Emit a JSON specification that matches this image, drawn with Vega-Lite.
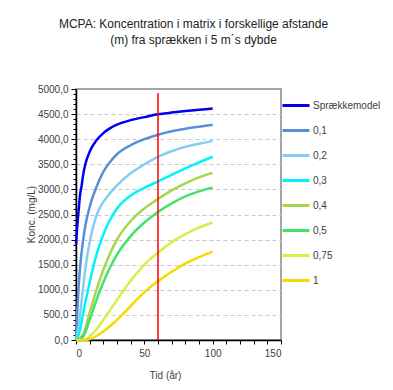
{
  "$schema": "https://vega.github.io/schema/vega-lite/v6.json",
  "width": 205,
  "height": 251,
  "autosize": {"type": "none"},
  "padding": {"left": 76, "top": 89, "right": 112, "bottom": 50},
  "background": "white",
  "config": {
    "locale": {"number": {"decimal": ",", "thousands": ".", "grouping": [3], "currency": ["", ""]}},
    "font": "Liberation Sans",
    "view": {"stroke": "#888888", "strokeWidth": 1.5},
    "axis": {"domainColor": "#000000", "domainWidth": 1.5, "tickColor": "#000000", "labelColor": "#404040", "labelFontSize": 10, "titleFontSize": 10, "titleFontWeight": "normal", "titleColor": "#404040", "labelOverlap": false, "tickCount": 100}
  },
  "title": {
    "text": ["MCPA: Koncentration i matrix i forskellige afstande", "(m) fra sprækken i 5 m´s dybde"],
    "fontSize": 12,
    "fontWeight": "normal",
    "color": "#222222",
    "lineHeight": 16,
    "offset": 37,
    "dx": 15,
    "anchor": "middle"
  },
  "datasets": {
    "curves": [
      {"s": "Sprækkemodel", "t": 0, "c": 1900}, {"s": "Sprækkemodel", "t": 1, "c": 2300}, {"s": "Sprækkemodel", "t": 2, "c": 2600}, {"s": "Sprækkemodel", "t": 3, "c": 2900}, {"s": "Sprækkemodel", "t": 4, "c": 3050}, {"s": "Sprækkemodel", "t": 5, "c": 3250}, {"s": "Sprækkemodel", "t": 7, "c": 3520}, {"s": "Sprækkemodel", "t": 10, "c": 3750}, {"s": "Sprækkemodel", "t": 15, "c": 3980}, {"s": "Sprækkemodel", "t": 20, "c": 4120}, {"s": "Sprækkemodel", "t": 25, "c": 4220}, {"s": "Sprækkemodel", "t": 30, "c": 4290}, {"s": "Sprækkemodel", "t": 40, "c": 4380}, {"s": "Sprækkemodel", "t": 50, "c": 4440}, {"s": "Sprækkemodel", "t": 60, "c": 4495}, {"s": "Sprækkemodel", "t": 70, "c": 4530}, {"s": "Sprækkemodel", "t": 80, "c": 4560}, {"s": "Sprækkemodel", "t": 90, "c": 4585}, {"s": "Sprækkemodel", "t": 100, "c": 4610},
      {"s": "0,1", "t": 0, "c": 0}, {"s": "0,1", "t": 1, "c": 600}, {"s": "0,1", "t": 2, "c": 1100}, {"s": "0,1", "t": 3, "c": 1450}, {"s": "0,1", "t": 5, "c": 1950}, {"s": "0,1", "t": 7, "c": 2300}, {"s": "0,1", "t": 10, "c": 2650}, {"s": "0,1", "t": 15, "c": 3050}, {"s": "0,1", "t": 20, "c": 3350}, {"s": "0,1", "t": 25, "c": 3550}, {"s": "0,1", "t": 30, "c": 3700}, {"s": "0,1", "t": 40, "c": 3880}, {"s": "0,1", "t": 50, "c": 4000}, {"s": "0,1", "t": 60, "c": 4090}, {"s": "0,1", "t": 70, "c": 4160}, {"s": "0,1", "t": 80, "c": 4210}, {"s": "0,1", "t": 90, "c": 4250}, {"s": "0,1", "t": 100, "c": 4290},
      {"s": "0,2", "t": 0, "c": 0}, {"s": "0,2", "t": 2, "c": 280}, {"s": "0,2", "t": 3, "c": 500}, {"s": "0,2", "t": 5, "c": 1000}, {"s": "0,2", "t": 7, "c": 1450}, {"s": "0,2", "t": 10, "c": 1950}, {"s": "0,2", "t": 13, "c": 2300}, {"s": "0,2", "t": 16, "c": 2550}, {"s": "0,2", "t": 20, "c": 2750}, {"s": "0,2", "t": 25, "c": 2930}, {"s": "0,2", "t": 30, "c": 3080}, {"s": "0,2", "t": 40, "c": 3320}, {"s": "0,2", "t": 50, "c": 3500}, {"s": "0,2", "t": 60, "c": 3650}, {"s": "0,2", "t": 70, "c": 3760}, {"s": "0,2", "t": 80, "c": 3850}, {"s": "0,2", "t": 90, "c": 3910}, {"s": "0,2", "t": 100, "c": 3965},
      {"s": "0,3", "t": 0, "c": 0}, {"s": "0,3", "t": 3, "c": 200}, {"s": "0,3", "t": 5, "c": 500}, {"s": "0,3", "t": 10, "c": 1150}, {"s": "0,3", "t": 15, "c": 1700}, {"s": "0,3", "t": 20, "c": 2100}, {"s": "0,3", "t": 25, "c": 2400}, {"s": "0,3", "t": 30, "c": 2620}, {"s": "0,3", "t": 40, "c": 2880}, {"s": "0,3", "t": 50, "c": 3030}, {"s": "0,3", "t": 60, "c": 3160}, {"s": "0,3", "t": 70, "c": 3290}, {"s": "0,3", "t": 80, "c": 3420}, {"s": "0,3", "t": 90, "c": 3540}, {"s": "0,3", "t": 100, "c": 3650},
      {"s": "0,4", "t": 0, "c": 0}, {"s": "0,4", "t": 5, "c": 100}, {"s": "0,4", "t": 10, "c": 550}, {"s": "0,4", "t": 15, "c": 1000}, {"s": "0,4", "t": 20, "c": 1400}, {"s": "0,4", "t": 25, "c": 1730}, {"s": "0,4", "t": 30, "c": 2000}, {"s": "0,4", "t": 40, "c": 2370}, {"s": "0,4", "t": 50, "c": 2620}, {"s": "0,4", "t": 60, "c": 2810}, {"s": "0,4", "t": 70, "c": 2980}, {"s": "0,4", "t": 80, "c": 3120}, {"s": "0,4", "t": 90, "c": 3240}, {"s": "0,4", "t": 100, "c": 3330},
      {"s": "0,5", "t": 0, "c": 0}, {"s": "0,5", "t": 5, "c": 60}, {"s": "0,5", "t": 10, "c": 400}, {"s": "0,5", "t": 15, "c": 800}, {"s": "0,5", "t": 20, "c": 1150}, {"s": "0,5", "t": 25, "c": 1450}, {"s": "0,5", "t": 30, "c": 1700}, {"s": "0,5", "t": 40, "c": 2070}, {"s": "0,5", "t": 50, "c": 2340}, {"s": "0,5", "t": 60, "c": 2550}, {"s": "0,5", "t": 70, "c": 2720}, {"s": "0,5", "t": 80, "c": 2860}, {"s": "0,5", "t": 90, "c": 2960}, {"s": "0,5", "t": 100, "c": 3035},
      {"s": "0,75", "t": 0, "c": 0}, {"s": "0,75", "t": 5, "c": 0}, {"s": "0,75", "t": 8, "c": 30}, {"s": "0,75", "t": 12, "c": 120}, {"s": "0,75", "t": 16, "c": 250}, {"s": "0,75", "t": 20, "c": 400}, {"s": "0,75", "t": 25, "c": 600}, {"s": "0,75", "t": 30, "c": 800}, {"s": "0,75", "t": 36, "c": 1030}, {"s": "0,75", "t": 42, "c": 1250}, {"s": "0,75", "t": 47, "c": 1410}, {"s": "0,75", "t": 53, "c": 1580}, {"s": "0,75", "t": 60, "c": 1740}, {"s": "0,75", "t": 70, "c": 1950}, {"s": "0,75", "t": 80, "c": 2110}, {"s": "0,75", "t": 90, "c": 2240}, {"s": "0,75", "t": 100, "c": 2340},
      {"s": "1", "t": 0, "c": 0}, {"s": "1", "t": 7, "c": 0}, {"s": "1", "t": 10, "c": 20}, {"s": "1", "t": 15, "c": 80}, {"s": "1", "t": 20, "c": 170}, {"s": "1", "t": 25, "c": 280}, {"s": "1", "t": 30, "c": 400}, {"s": "1", "t": 37, "c": 590}, {"s": "1", "t": 45, "c": 820}, {"s": "1", "t": 50, "c": 950}, {"s": "1", "t": 55, "c": 1070}, {"s": "1", "t": 60, "c": 1170}, {"s": "1", "t": 70, "c": 1360}, {"s": "1", "t": 80, "c": 1520}, {"s": "1", "t": 90, "c": 1650}, {"s": "1", "t": 100, "c": 1760}
    ],
    "marker": [{"t": 60, "c0": 0, "c1": 4920}]
  },
  "layer": [
    {
      "data": {"name": "curves"},
      "mark": {"type": "line", "interpolate": "monotone", "strokeWidth": 2.5},
      "encoding": {
        "x": {
          "field": "t", "type": "quantitative",
          "scale": {"domain": [0, 150], "nice": false},
          "axis": {
            "title": "Tid (år)",
            "values": [0, 10, 20, 30, 40, 50, 60, 70, 80, 90, 100, 110, 120, 130, 140, 150],
            "tickCount": 100,
            "format": "d",
            "labelExpr": "datum.value % 50 === 0 ? datum.label : ''",
            "grid": false,
            "tickSize": 4,
            "labelPadding": 4,
            "titleX": 89,
            "titleY": 35,
            "titleBaseline": "middle"
          }
        },
        "y": {
          "field": "c", "type": "quantitative",
          "scale": {"domain": [0, 5000], "nice": false},
          "axis": {
            "title": "Konc. (mg/L)",
            "values": [0, 100, 200, 300, 400, 500, 600, 700, 800, 900, 1000, 1100, 1200, 1300, 1400, 1500, 1600, 1700, 1800, 1900, 2000, 2100, 2200, 2300, 2400, 2500, 2600, 2700, 2800, 2900, 3000, 3100, 3200, 3300, 3400, 3500, 3600, 3700, 3800, 3900, 4000, 4100, 4200, 4300, 4400, 4500, 4600, 4700, 4800, 4900, 5000],
            "tickCount": 100,
            "format": ".1f",
            "labelExpr": "datum.value % 500 === 0 ? datum.label : ''",
            "tickSize": {"condition": {"test": "datum.value % 500 === 0", "value": 5}, "value": 3},
            "gridColor": "#c8c8c8",
            "gridDash": [4, 3],
            "gridOpacity": {"condition": {"test": "datum.value % 500 === 0 && datum.value > 0 && datum.value < 5000", "value": 1}, "value": 0},
            "labelPadding": 3,
            "titleX": -40,
            "titleY": 125,
            "titleAngle": -90,
            "titleAlign": "center",
            "titleBaseline": "bottom"
          }
        },
        "color": {
          "field": "s", "type": "nominal",
          "scale": {
            "domain": ["Sprækkemodel", "0,1", "0,2", "0,3", "0,4", "0,5", "0,75", "1"],
            "range": ["#0000f0", "#5a8fd6", "#86cdf4", "#00f4f8", "#a4d84a", "#44e070", "#d4f048", "#f0dc00"]
          },
          "legend": {
            "title": null,
            "orient": "none",
            "legendX": 205,
            "legendY": 1.5,
            "padding": 0,
            "symbolType": "stroke",
            "symbolSize": 729,
            "symbolStrokeWidth": 3,
            "rowPadding": 4,
            "labelOffset": 2,
            "labelFontSize": 10,
            "labelColor": "#404040",
            "labelLimit": 120
          }
        }
      }
    },
    {
      "data": {"name": "marker"},
      "mark": {"type": "rule", "color": "#ff0000", "strokeWidth": 1.5},
      "encoding": {
        "x": {"field": "t", "type": "quantitative"},
        "y": {"field": "c0", "type": "quantitative"},
        "y2": {"field": "c1"}
      }
    }
  ]
}
